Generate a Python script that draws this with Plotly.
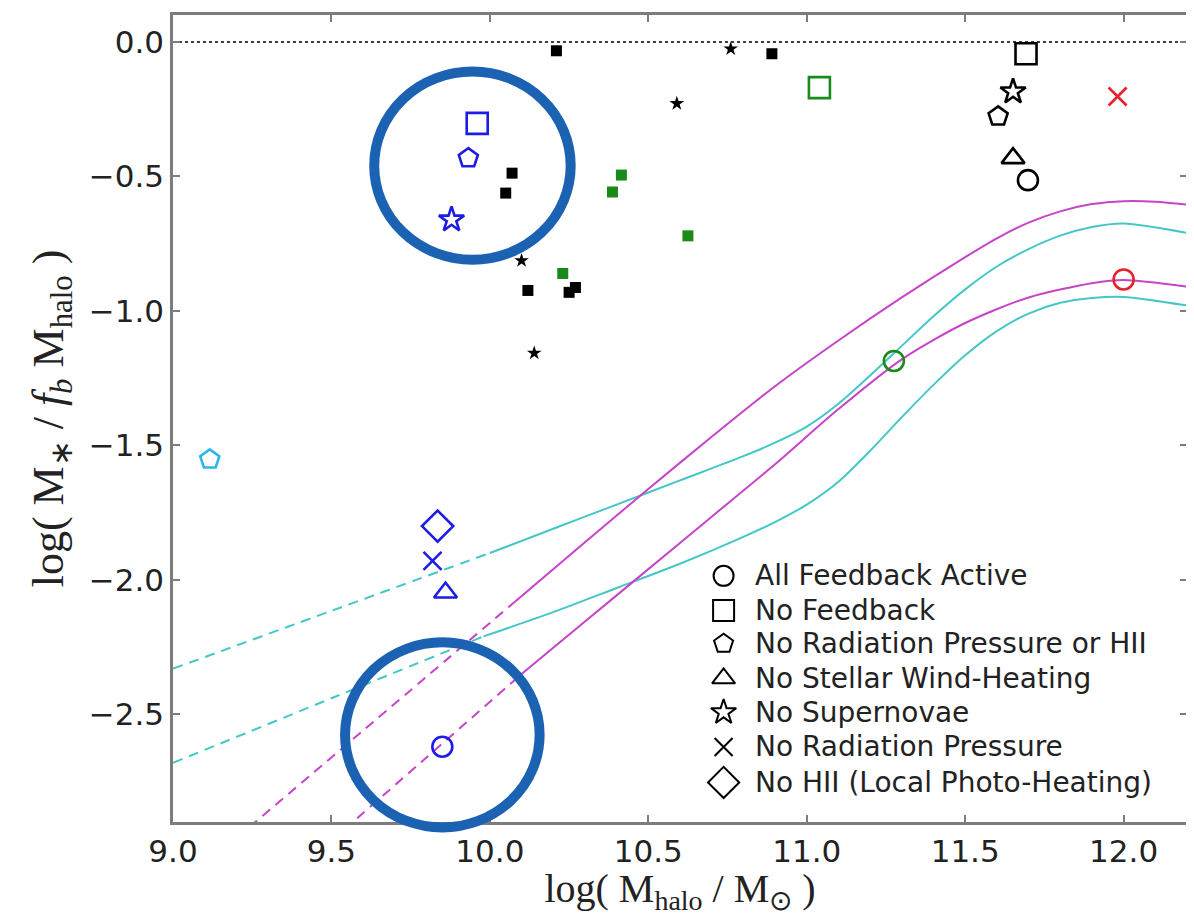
import plotly.graph_objects as go

# ---------------- data ----------------
# Comparison points (small markers)
small_black_sq_x = [10.21, 10.89, 10.07, 10.05, 10.12, 10.25, 10.27]
small_black_sq_y = [-0.033, -0.044, -0.488, -0.562, -0.924, -0.931, -0.913]
small_black_star_x = [10.76, 10.59, 10.10, 10.14]
small_black_star_y = [-0.026, -0.229, -0.813, -1.157]
small_green_sq_x = [10.415, 10.387, 10.625, 10.23]
small_green_sq_y = [-0.495, -0.558, -0.721, -0.861]

# Simulations (variant labels)
black_x = [11.692, 11.651, 11.604, 11.651, 11.698]
black_y = [-0.044, -0.185, -0.277, -0.432, -0.514]
black_var = ["No Feedback", "No Supernovae", "No Radiation Pressure or HII",
             "No Stellar Wind-Heating", "All Feedback Active"]

green_x = [11.04, 11.275]
green_y = [-0.17, -1.186]
green_var = ["No Feedback", "All Feedback Active"]

red_x = [11.981, 12.0]
red_y = [-0.203, -0.883]
red_var = ["No Radiation Pressure", "All Feedback Active"]

blue_x = [9.960, 9.932, 9.879, 9.835, 9.819, 9.860, 9.850]
blue_y = [-0.303, -0.432, -0.661, -1.80, -1.929, -2.047, -2.620]
blue_var = ["No Feedback", "No Radiation Pressure or HII", "No Supernovae",
            "No HII (Local Photo-Heating)", "No Radiation Pressure",
            "No Stellar Wind-Heating", "All Feedback Active"]

cyan_x = [9.116]
cyan_y = [-1.552]
cyan_var = ["No Radiation Pressure or HII"]

# Abundance-matching relations (solid = constrained, dashed = extrapolated)
mag_up_x = [10.08, 10.3, 10.5, 10.7, 10.9, 11.1, 11.3, 11.5, 11.6, 11.7, 11.8, 11.9,
            12.0, 12.1, 12.2]
mag_up_y = [-2.08, -1.86, -1.662, -1.468, -1.28, -1.11, -0.95, -0.80, -0.73, -0.672,
            -0.63, -0.603, -0.592, -0.594, -0.605]
mag_up_dash_x = [9.2, 9.6, 10.08]
mag_up_dash_y = [-2.96, -2.56, -2.08]

mag_lo_x = [10.10, 10.3, 10.5, 10.7, 10.9, 11.1, 11.3, 11.5, 11.7, 11.9, 12.0, 12.2]
mag_lo_y = [-2.35, -2.155, -1.96, -1.765, -1.57, -1.365, -1.18, -1.045, -0.95, -0.897,
            -0.885, -0.91]
mag_lo_dash_x = [9.5, 9.8, 10.10]
mag_lo_dash_y = [-2.97, -2.66, -2.35]

cyan_up_x = [10.0, 10.2, 10.4, 10.6, 10.8, 10.9, 11.0, 11.1, 11.2, 11.3, 11.4, 11.5,
             11.6, 11.7, 11.8, 11.9, 12.0, 12.2]
cyan_up_y = [-1.90, -1.81, -1.72, -1.63, -1.54, -1.49, -1.43, -1.345, -1.24, -1.13, -1.02,
             -0.92, -0.835, -0.77, -0.72, -0.688, -0.675, -0.71]
cyan_up_dash_x = [9.0, 9.5, 10.0]
cyan_up_dash_y = [-2.33, -2.115, -1.90]

cyan_lo_x = [9.98, 10.2, 10.4, 10.6, 10.8, 10.9, 11.0, 11.1, 11.2, 11.3, 11.4, 11.5,
             11.6, 11.7, 11.8, 11.9, 12.0, 12.2]
cyan_lo_y = [-2.21, -2.12, -2.03, -1.94, -1.84, -1.785, -1.72, -1.635, -1.52, -1.395, -1.275,
             -1.165, -1.075, -1.01, -0.97, -0.952, -0.948, -0.98]
cyan_lo_dash_x = [9.0, 9.5, 9.98]
cyan_lo_dash_y = [-2.68, -2.44, -2.21]

# Highlight circles (centre x, centre y, radius x, radius y) in data units
highlight_cx = [9.945, 9.85]
highlight_cy = [-0.46, -2.576]
highlight_rx = [0.31, 0.307]
highlight_ry = [0.35, 0.344]

legend_labels = ["All Feedback Active", "No Feedback", "No Radiation Pressure or HII",
                 "No Stellar Wind-Heating", "No Supernovae", "No Radiation Pressure",
                 "No HII (Local Photo-Heating)"]

x_ticks = [9.0, 9.5, 10.0, 10.5, 11.0, 11.5, 12.0]
y_ticks = [0.0, -0.5, -1.0, -1.5, -2.0, -2.5]

# ---------------- styles ----------------
XR = [9.0, 12.2]
YR = [-2.9, 0.1]
SYM = {
    "All Feedback Active": ("circle-open", 20),
    "No Feedback": ("square-open", 21),
    "No Radiation Pressure or HII": ("pentagon-open", 20),
    "No Stellar Wind-Heating": ("triangle-up-open", 20),
    "No Supernovae": ("star-open", 19),
    "No Radiation Pressure": ("x-thin-open", 18),
    "No HII (Local Photo-Heating)": ("diamond-open", 24),
}
MAG = "#c544c8"
CYN = "#45c7c7"
FONT = "DejaVu Sans"
SERIF = "Liberation Serif"
DASH = "10px,7px"

fig = go.Figure()

def curve(x, y, color, dash):
    fig.add_trace(go.Scatter(x=x, y=y, mode="lines", showlegend=False,
                             line=dict(color=color, width=2, dash=dash, shape="spline",
                                       smoothing=0.8)))

curve(cyan_up_dash_x, cyan_up_dash_y, CYN, DASH)
curve(cyan_lo_dash_x, cyan_lo_dash_y, CYN, DASH)
curve(mag_up_dash_x, mag_up_dash_y, MAG, DASH)
curve(mag_lo_dash_x, mag_lo_dash_y, MAG, DASH)
curve(cyan_up_x, cyan_up_y, CYN, "solid")
curve(cyan_lo_x, cyan_lo_y, CYN, "solid")
curve(mag_up_x, mag_up_y, MAG, "solid")
curve(mag_lo_x, mag_lo_y, MAG, "solid")

def small(x, y, color, sym, size):
    fig.add_trace(go.Scatter(x=x, y=y, mode="markers", showlegend=False,
                             marker=dict(symbol=sym, size=size, color=color, opacity=1,
                                         line=dict(width=0))))

small(small_black_sq_x, small_black_sq_y, "black", "square", 11)
small(small_black_star_x, small_black_star_y, "black", "star", 11)
small(small_green_sq_x, small_green_sq_y, "#1a8a1a", "square", 11)

def sims(x, y, variants, color):
    syms = [SYM[v][0] for v in variants]
    sizes = [SYM[v][1] for v in variants]
    fig.add_trace(go.Scatter(x=x, y=y, mode="markers", showlegend=False,
                             text=variants, hovertemplate="%{text}<extra></extra>",
                             marker=dict(symbol=syms, size=sizes, color=color, opacity=1,
                                         line=dict(width=2.6, color=color))))

sims(black_x, black_y, black_var, "black")
sims(green_x, green_y, green_var, "#1a8a1a")
sims(red_x, red_y, red_var, "#e8202a")
sims(blue_x, blue_y, blue_var, "#1c1ce6")
sims(cyan_x, cyan_y, cyan_var, "#2bb6ee")

# custom legend on an overlay axis spanning [0,1]
leg_y = [0.305, 0.262, 0.221, 0.178, 0.136, 0.093, 0.049]
leg_x0 = 0.543
fig.add_trace(go.Scatter(
    x=[leg_x0] * len(legend_labels), y=leg_y, xaxis="x2", yaxis="y2",
    mode="markers", showlegend=False, hoverinfo="skip",
    marker=dict(symbol=[SYM[l][0] for l in legend_labels], opacity=1,
                size=[SYM[l][1] for l in legend_labels], color="black",
                line=dict(width=2, color="black"))))
for lab, yy in zip(legend_labels, leg_y):
    fig.add_annotation(x=leg_x0 + 0.029, y=yy, xref="paper", yref="paper", text=lab,
                       showarrow=False, xanchor="left", yanchor="middle",
                       font=dict(family=FONT, size=28, color="#222222"))

# dotted zero line
fig.add_shape(type="line", xref="paper", x0=0, x1=1, yref="y", y0=0, y1=0,
              line=dict(color="black", width=1.5, dash="dot"), layer="below")

# highlight circles (paper coordinates so they are not clipped by the axes)
for cx, cy, rx, ry in zip(highlight_cx, highlight_cy, highlight_rx, highlight_ry):
    px0 = (cx - rx - XR[0]) / (XR[1] - XR[0])
    px1 = (cx + rx - XR[0]) / (XR[1] - XR[0])
    py0 = (cy - ry - YR[0]) / (YR[1] - YR[0])
    py1 = (cy + ry - YR[0]) / (YR[1] - YR[0])
    fig.add_shape(type="circle", xref="paper", yref="paper", x0=px0, x1=px1, y0=py0, y1=py1,
                  line=dict(color="#1b62b3", width=10), layer="above")

axis_common = dict(showgrid=False, zeroline=False, showline=True, linecolor="#7c7c7c",
                   linewidth=2.5, mirror="ticks", ticks="inside", ticklen=7, tickwidth=1.5,
                   tickcolor="#7c7c7c", tickfont=dict(family=FONT, size=31, color="#222222"))

# the page body has an 8px margin, so the figure is 1186x908 placed at (8, 8)
fig.update_layout(
    width=1186, height=908,
    margin=dict(l=165, r=4, t=4, b=94),
    paper_bgcolor="white", plot_bgcolor="white",
    showlegend=False,
    xaxis=dict(range=XR, tickvals=x_ticks, ticktext=[f"{v:.1f}" for v in x_ticks],
               ticklabelstandoff=0,
               title=dict(text="log( M<sub>halo</sub> / M<sub>⊙</sub> )", standoff=9,
                          font=dict(family=SERIF, size=40, color="#222222")),
               **axis_common),
    yaxis=dict(range=YR, tickvals=y_ticks,
               ticktext=[("−" if v < 0 else "") + f"{abs(v):.1f}" for v in y_ticks],
               title=dict(text="log( M<sub>∗</sub> / <i>f</i><sub><i>b</i></sub> M<sub>halo</sub> )",
                          standoff=12,
                          font=dict(family=SERIF, size=44, color="#222222")),
               **axis_common),
    xaxis2=dict(range=[0, 1], overlaying="x", visible=False),
    yaxis2=dict(range=[0, 1], overlaying="y", visible=False),
)

fig.write_html("out.html")
